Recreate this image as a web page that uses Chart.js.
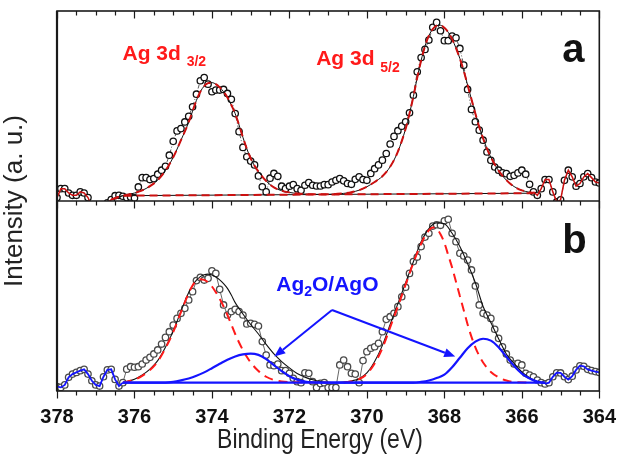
<!DOCTYPE html>
<html>
<head>
<meta charset="utf-8">
<title>Ag 3d XPS</title>
<script src="https://cdn.jsdelivr.net/npm/chart.js@4.4.1/dist/chart.umd.min.js"></script>
<style>
  html, body { margin: 0; padding: 0; background: #fff; }
  #box { position: relative; width: 622px; height: 455px; }
</style>
</head>
<body>
<div id="box"><canvas id="xps"></canvas></div>
<script>
// binding energy grid of both scans (eV)
var energy = [
  378.0, 377.9, 377.8, 377.7, 377.6, 377.5, 377.4, 377.3, 377.2, 377.1,
  377.0, 376.9, 376.8, 376.7, 376.6, 376.5, 376.4, 376.3, 376.2, 376.1,
  376.0, 375.9, 375.8, 375.7, 375.6, 375.5, 375.4, 375.3, 375.2, 375.1,
  375.0, 374.9, 374.8, 374.7, 374.6, 374.5, 374.4, 374.3, 374.2, 374.1,
  374.0, 373.9, 373.8, 373.7, 373.6, 373.5, 373.4, 373.3, 373.2, 373.1,
  373.0, 372.9, 372.8, 372.7, 372.6, 372.5, 372.4, 372.3, 372.2, 372.1,
  372.0, 371.9, 371.8, 371.7, 371.6, 371.5, 371.4, 371.3, 371.2, 371.1,
  371.0, 370.9, 370.8, 370.7, 370.6, 370.5, 370.4, 370.3, 370.2, 370.1,
  370.0, 369.9, 369.8, 369.7, 369.6, 369.5, 369.4, 369.3, 369.2, 369.1,
  369.0, 368.9, 368.8, 368.7, 368.6, 368.5, 368.4, 368.3, 368.2, 368.1,
  368.0, 367.9, 367.8, 367.7, 367.6, 367.5, 367.4, 367.3, 367.2, 367.1,
  367.0, 366.9, 366.8, 366.7, 366.6, 366.5, 366.4, 366.3, 366.2, 366.1,
  366.0, 365.9, 365.8, 365.7, 365.6, 365.5, 365.4, 365.3, 365.2, 365.1,
  365.0, 364.9, 364.8, 364.7, 364.6, 364.5, 364.4, 364.3, 364.2, 364.1,
  364.0
];

// panel a: measured intensity (a.u.)
var countsA = [
  1.8, 6.5, 6.5, 4.2, 3.0, 3.0, 4.8, 4.2, 1.8, -3.0,
  -6.0, -6.0, -4.0, -1.0, 0.7, 2.8, 3.0, 2.5, 1.8, 2.1,
  1.6, 7.4, 12.3, 12.3, 11.3, 11.8, 14.1, 16.2, 18.3, 24.1,
  31.4, 36.9, 38.1, 41.6, 44.6, 49.6, 56.2, 63.3, 65.0, 61.5,
  57.5, 58.4, 58.4, 58.7, 56.6, 53.5, 46.0, 36.5, 28.2, 23.3,
  21.0, 19.0, 13.2, 7.5, 4.8, 12.0, 14.5, 13.0, 7.8, 6.5,
  7.8, 8.6, 6.5, 5.6, 8.3, 9.7, 8.3, 7.9, 7.9, 8.6,
  8.6, 10.0, 10.9, 11.8, 10.6, 9.2, 8.8, 11.4, 12.7, 11.3,
  10.9, 14.5, 17.0, 19.0, 21.5, 25.0, 30.0, 34.0, 37.0, 39.4,
  41.7, 46.4, 55.7, 68.0, 75.5, 79.8, 84.7, 91.4, 94.0, 89.6,
  84.4, 84.4, 86.8, 85.9, 80.3, 71.5, 58.7, 48.2, 41.7, 37.3,
  32.0, 25.8, 21.4, 17.9, 16.2, 14.8, 14.4, 13.0, 13.5, 14.8,
  16.2, 14.1, 8.8, 4.8, 3.0, 6.5, 11.3, 11.3, 4.8, -0.5,
  0.6, 10.9, 16.2, 12.7, 7.8, 9.2, 12.7, 14.4, 12.3, 10.0,
  9.5
];

// panel b: measured intensity (a.u.)
var countsB = [
  2.3, 1.9, 3.2, 7.2, 8.9, 9.8, 10.7, 11.4, 8.9, 5.4,
  3.2, 2.6, 7.5, 11.1, 11.4, 6.1, 2.6, 4.4, 11.5, 12.8,
  12.5, 12.8, 14.2, 16.3, 17.7, 19.5, 21.6, 24.7, 28.2, 31.2,
  34.7, 38.2, 40.9, 43.5, 47.9, 52.3, 58.1, 59.8, 58.4, 59.3,
  63.3, 61.9, 53.5, 45.3, 40.0, 41.8, 43.0, 41.8, 40.0, 35.3,
  35.6, 35.1, 34.2, 26.0, 18.9, 13.7, 13.3, 14.2, 10.7, 10.7,
  9.3, 6.7, 4.9, 4.4, 9.6, 9.3, 4.9, 1.8, 4.0, 4.4,
  1.8, 1.9, 1.8, 13.7, 16.3, 12.8, 9.3, 8.9, 4.4, 16.0,
  20.7, 22.5, 23.3, 25.1, 31.2, 37.7, 39.1, 40.9, 44.4, 49.6,
  54.6, 61.9, 68.1, 70.5, 76.0, 81.0, 83.0, 86.8, 87.5, 87.2,
  89.6, 90.4, 83.0, 78.6, 72.5, 71.1, 68.9, 63.7, 55.3, 45.3,
  40.9, 40.0, 38.2, 32.5, 27.7, 23.3, 19.5, 16.3, 14.2, 14.6,
  13.7, 9.3, 8.4, 7.5, 5.8, 4.4, 3.7, 4.4, 7.5, 9.6,
  9.5, 7.5, 6.0, 7.8, 11.1, 13.3, 13.0, 11.4, 10.7, 10.2,
  9.8
];

// panel a fit envelope (Ag 3d3/2 + Ag 3d5/2) and background
var fitAx = [376.6, 376.4, 376.2, 376.0, 375.8, 375.6, 375.4, 375.2, 375.0, 374.8,
  374.6, 374.4, 374.3, 374.2, 374.1, 374.0, 373.9, 373.8, 373.7, 373.6,
  373.5, 373.4, 373.3, 373.2, 373.1, 373.0, 372.9, 372.8, 372.6, 372.4,
  372.2, 372.0, 371.8, 371.4, 371.0, 370.6, 370.4, 370.2, 370.0, 369.8,
  369.6, 369.4, 369.2, 369.0, 368.9, 368.8, 368.7, 368.6, 368.5, 368.4,
  368.3, 368.2, 368.1, 368.0, 367.9, 367.8, 367.7, 367.6, 367.5, 367.4,
  367.3, 367.2, 367.1, 367.0, 366.9, 366.8, 366.6, 366.4, 366.2, 366.0,
  365.8, 365.7];
var fitAy = [0.7, 2.3, 3.2, 4.2, 5.6, 7.8, 11.0, 16.0, 23.0, 32.0,
  41.5, 53.0, 57.5, 60.5, 62.0, 62.3, 61.5, 59.8, 57.5, 54.5,
  50.5, 46.0, 40.0, 33.5, 27.5, 22.5, 18.5, 15.5, 10.5, 7.2,
  5.4, 4.5, 4.0, 3.5, 3.5, 4.0, 4.6, 5.7, 7.5, 10.0,
  13.0, 18.0, 26.0, 38.0, 46.0, 55.0, 65.0, 74.0, 81.5, 87.0,
  90.5, 92.3, 92.5, 91.2, 88.8, 85.2, 80.5, 75.0, 68.5, 61.0,
  53.5, 46.0, 39.0, 33.0, 27.5, 23.0, 16.0, 11.0, 7.6, 5.6,
  4.6, 4.3];
var baseAx = [376.6, 376.3, 365.7];
var baseAy = [0.7, 2.8, 4.1];

// panel b fit envelope
var fitBx = [376.3, 376.0, 375.8, 375.6, 375.4, 375.2, 375.0, 374.8, 374.6, 374.5,
  374.4, 374.3, 374.2, 374.1, 374.0, 373.9, 373.8, 373.7, 373.6, 373.5,
  373.4, 373.3, 373.2, 373.0, 372.8, 372.6, 372.4, 372.2, 372.0, 371.8,
  371.6, 371.4, 371.2, 371.0, 370.8, 370.6, 370.4, 370.2, 370.0, 369.8,
  369.6, 369.4, 369.2, 369.0, 368.8, 368.6, 368.4, 368.2, 368.0, 367.8,
  367.6, 367.4, 367.2, 367.0, 366.8, 366.6, 366.4, 366.2, 366.0, 365.8,
  365.6, 365.4];
var fitBy = [4.4, 6.2, 8.4, 11.5, 16.0, 23.0, 31.5, 42.0, 51.8, 55.5,
  58.3, 60.2, 61.2, 61.5, 61.0, 60.0, 58.5, 56.5, 54.0, 50.5,
  46.5, 43.5, 40.5, 35.0, 30.0, 24.5, 19.5, 15.5, 12.2, 9.2,
  7.3, 5.9, 5.0, 4.6, 4.5, 4.7, 5.3, 6.5, 9.5, 15.5,
  24.0, 35.0, 46.0, 57.0, 68.0, 78.5, 85.5, 88.5, 88.0, 83.0,
  76.0, 67.0, 57.0, 44.5, 36.0, 27.5, 19.5, 14.5, 10.0, 7.0,
  5.0, 4.0];

// panel b metallic Ag components (red, dashed)
var agB1x = [376.3, 376.0, 375.8, 375.6, 375.4, 375.2, 375.0, 374.8, 374.6, 374.5,
  374.4, 374.3, 374.2, 374.1, 374.0, 373.9, 373.8, 373.7, 373.6, 373.5,
  373.4, 373.3, 373.2, 373.1, 373.0, 372.8, 372.6, 372.4, 372.2, 371.8,
  371.0];
var agB1y = [4.4, 6.0, 8.0, 11.0, 15.5, 22.5, 31.0, 41.5, 51.5, 55.5,
  58.0, 58.8, 58.5, 57.2, 55.0, 52.0, 48.5, 44.5, 40.0, 35.0,
  30.0, 25.5, 21.5, 18.0, 15.0, 10.5, 7.5, 5.8, 5.0, 4.6,
  4.4];
var agB2x = [370.6, 370.4, 370.2, 370.0, 369.8, 369.6, 369.4, 369.2, 369.0, 368.8,
  368.6, 368.5, 368.4, 368.3, 368.2, 368.1, 368.0, 367.9, 367.8, 367.7,
  367.6, 367.5, 367.4, 367.3, 367.2, 367.1, 367.0, 366.8, 366.6, 366.4,
  366.2, 365.8];
var agB2y = [4.5, 5.0, 6.2, 9.0, 14.5, 22.5, 33.5, 44.5, 56.0, 67.5,
  77.5, 81.5, 84.5, 86.0, 85.5, 82.5, 78.0, 71.5, 65.0, 57.5,
  50.0, 42.5, 35.0, 28.5, 23.0, 18.5, 15.0, 10.0, 7.2, 5.5,
  4.7, 4.4];

// panel b oxide components (blue)
var oxB1x = [376.3, 375.2, 375.0, 374.8, 374.6, 374.4, 374.2, 374.0, 373.8, 373.6,
  373.4, 373.2, 373.0, 372.8, 372.6, 372.4, 372.2, 372.0, 371.8, 371.6,
  371.4, 371.0, 365.4];
var oxB1y = [4.4, 4.4, 4.8, 5.6, 6.6, 8.0, 9.8, 12.0, 14.3, 16.5,
  18.2, 19.3, 19.7, 19.0, 16.8, 13.6, 10.5, 7.8, 6.0, 5.0,
  4.6, 4.4, 4.4];
var oxB2x = [376.3, 368.8, 368.6, 368.4, 368.2, 368.0, 367.8, 367.6, 367.4, 367.2,
  367.0, 366.8, 366.6, 366.4, 366.2, 366.0, 365.8, 365.6, 365.4];
var oxB2y = [4.4, 4.4, 4.8, 5.5, 6.8, 8.6, 12.5, 17.5, 22.5, 26.0,
  27.5, 26.5, 23.0, 18.0, 13.2, 9.2, 6.6, 5.0, 4.2];

var xTicks = [378, 376, 374, 372, 370, 368, 366, 364];

var FONT = '"Liberation Sans", Arial, Helvetica, sans-serif';
Chart.defaults.font.family = FONT;

function pairUp(xs, ys) {
  return xs.map(function (x, i) { return { x: x, y: ys[i] }; });
}
function within(points, lo, hi) {
  return points.filter(function (p) { return p.x >= lo && p.x <= hi; });
}
function curve(points, axis, color, width, dash) {
  return {
    data: points, yAxisID: axis, borderColor: color, borderWidth: width,
    borderDash: dash || [], pointRadius: 0, fill: false,
    cubicInterpolationMode: 'monotone'
  };
}
function straight(points, axis, color, width, dash) {
  var ds = curve(points, axis, color, width, dash);
  ds.cubicInterpolationMode = 'default';
  ds.tension = 0;
  return ds;
}

var ptsA = pairUp(energy, countsA);
var ptsB = pairUp(energy, countsB);

var RED_A = '#cc1010', RED_B = '#ff1a1a', BLUE = '#1414ff';

// text runs for the drawn notes
function drawRuns(ctx, x, y, runs, color) {
  ctx.fillStyle = color;
  ctx.textAlign = 'left';
  ctx.textBaseline = 'alphabetic';
  runs.forEach(function (r) {
    ctx.font = 'bold ' + r.size + 'px ' + FONT;
    ctx.fillText(r.text, x, y + (r.dy || 0));
    x += ctx.measureText(r.text).width;
  });
}

function arrowHead(ctx, x0, y0, x1, y1, len, half) {
  var a = Math.atan2(y1 - y0, x1 - x0);
  var bx = x1 - len * Math.cos(a), by = y1 - len * Math.sin(a);
  ctx.beginPath();
  ctx.moveTo(x1, y1);
  ctx.lineTo(bx + half * Math.sin(a), by - half * Math.cos(a));
  ctx.lineTo(bx - half * Math.sin(a), by + half * Math.cos(a));
  ctx.closePath();
  ctx.fill();
  return [bx, by];
}

// frame, inner ticks, axis titles and the labels of both panels
var framePlugin = {
  id: 'frame',
  afterDraw: function (chart, args, opts) {
    var ctx = chart.ctx, x = chart.scales.x;
    var ya = chart.scales.yA, yb = chart.scales.yB;
    var upper = ya.top <= yb.top ? ya : yb, lower = upper === ya ? yb : ya;
    var L = x.left, R = x.right, T = upper.top, M = upper.bottom, B = lower.bottom;

    ctx.save();
    ctx.strokeStyle = '#1a1a1a';
    ctx.lineWidth = 1.6;
    ctx.strokeRect(L, T, R - L, B - T);
    ctx.beginPath();
    ctx.moveTo(L, M); ctx.lineTo(R, M);
    ctx.stroke();
    ctx.lineWidth = 2.2;
    ctx.beginPath();
    ctx.moveTo(L, T); ctx.lineTo(L, B);
    ctx.stroke();

    // major ticks every 2 eV, minor every 0.5 eV, all pointing down
    ctx.lineWidth = 1.2;
    ctx.beginPath();
    for (var i = 0; i < xTicks.length; i++) {
      var steps = i < xTicks.length - 1 ? 4 : 1;
      for (var k = 0; k < steps; k++) {
        var v = i < xTicks.length - 1 ? xTicks[i] + (xTicks[i + 1] - xTicks[i]) * k / 4 : xTicks[i];
        var px = Math.round(x.getPixelForValue(v)) + 0.5;
        var len = k === 0 ? 7.5 : 4.5;
        [T, M, B].forEach(function (yy) {
          ctx.moveTo(px, yy); ctx.lineTo(px, yy + len);
        });
      }
    }
    ctx.stroke();

    // axis titles
    ctx.fillStyle = '#222';
    ctx.textAlign = 'center';
    ctx.textBaseline = 'alphabetic';
    ctx.save();
    ctx.translate(opts.xTitleX, opts.xTitleY);
    ctx.scale(1, 1.18);
    ctx.font = '23px ' + FONT;
    ctx.fillText('Binding Energy (eV)', 0, 0);
    ctx.restore();
    ctx.translate(opts.yTitleX, (T + B) / 2);
    ctx.rotate(-Math.PI / 2);
    ctx.textBaseline = 'middle';
    ctx.font = '26px ' + FONT;
    ctx.fillText('Intensity (a. u.)', 0, 0);
    ctx.restore();

    ctx.save();
    opts.notes.forEach(function (n) {
      var sc = chart.scales[n.axis];
      drawRuns(ctx, x.getPixelForValue(n.x), sc.getPixelForValue(n.y), n.runs, n.color);
    });

    // arrows from the oxide label to both oxide peaks
    var ar = opts.arrows, sc = chart.scales[ar.axis];
    var ax = x.getPixelForValue(ar.from[0]), ay = sc.getPixelForValue(ar.from[1]);
    ctx.strokeStyle = ar.color;
    ctx.fillStyle = ar.color;
    ctx.lineWidth = 2;
    ar.to.forEach(function (t) {
      var tx = x.getPixelForValue(t[0]), ty = sc.getPixelForValue(t[1]);
      var base = arrowHead(ctx, ax, ay, tx, ty, 11, 4.5);
      ctx.beginPath();
      ctx.moveTo(ax, ay);
      ctx.lineTo(base[0], base[1]);
      ctx.stroke();
    });
    ctx.restore();
  }
};

// first dataset is drawn on top; measured points sit underneath the fits
new Chart(document.getElementById('xps'), {
  type: 'line',
  data: {
    datasets: [
      straight(within(ptsB, 376.3, 378), 'yB', BLUE, 1.8),
      straight(within(ptsB, 364, 365.4), 'yB', BLUE, 1.8),
      curve(pairUp(oxB1x, oxB1y), 'yB', BLUE, 2.2),
      curve(pairUp(oxB2x, oxB2y), 'yB', BLUE, 2.2),
      curve(pairUp(agB1x, agB1y), 'yB', RED_B, 2, [9, 6]),
      curve(pairUp(agB2x, agB2y), 'yB', RED_B, 2, [9, 6]),
      curve(pairUp(fitBx, fitBy), 'yB', '#111', 1.1),
      straight(within(ptsA, 376.6, 378), 'yA', RED_A, 1.5),
      straight(within(ptsA, 364, 365.7), 'yA', RED_A, 1.5),
      curve(pairUp(fitAx, fitAy), 'yA', RED_A, 2, [8, 5]),
      straight(pairUp(baseAx, baseAy), 'yA', RED_A, 2, [8, 5]),
      curve(pairUp(fitAx, fitAy), 'yA', '#111', 1),
      straight(pairUp(baseAx, baseAy), 'yA', '#111', 1),
      {
        data: ptsA, yAxisID: 'yA', borderColor: '#333', borderWidth: 0.8,
        borderDash: [4, 2, 1, 2], pointRadius: 3.2, pointBorderWidth: 1.3,
        pointBorderColor: '#111', pointBackgroundColor: '#fff', tension: 0
      },
      {
        data: ptsB, yAxisID: 'yB', borderColor: '#666', borderWidth: 1,
        pointRadius: 3.2, pointBorderWidth: 1.3,
        pointBorderColor: '#4a4a4a', pointBackgroundColor: '#fff', tension: 0
      }
    ]
  },
  options: {
    responsive: true,
    maintainAspectRatio: false,
    animation: false,
    events: [],
    layout: { padding: { left: 57, right: 19, top: 11, bottom: 0 } },
    scales: {
      x: {
        type: 'linear', min: 364, max: 378, reverse: true, position: 'bottom',
        afterBuildTicks: function (scale) {
          scale.ticks = xTicks.map(function (v) { return { value: v }; });
        },
        afterFit: function (scale) { scale.height = 64; },
        ticks: { font: { size: 20, weight: 'bold' }, color: '#111', padding: 6, maxRotation: 0, autoSkip: false },
        grid: { drawOnChartArea: false, drawTicks: true, tickLength: 8, tickColor: 'rgba(0,0,0,0)' },
        border: { display: false }
      },
      yA: {
        type: 'linear', min: 0, max: 100, position: 'left', stack: 'panels', stackWeight: 1, weight: 2,
        ticks: { display: false }, grid: { display: false, drawTicks: false }, border: { display: false }
      },
      yB: {
        type: 'linear', min: 0, max: 100, position: 'left', stack: 'panels', stackWeight: 1, weight: 1,
        ticks: { display: false }, grid: { display: false, drawTicks: false }, border: { display: false }
      }
    },
    plugins: {
      legend: { display: false },
      tooltip: { enabled: false },
      frame: {
        xTitleX: 320, xTitleY: 448, yTitleX: 15,
        notes: [
          { axis: 'yA', x: 376.31, y: 74.2, color: RED_B, runs: [{ text: 'Ag 3d ', size: 21 }, { text: '3/2', size: 14, dy: 6 }] },
          { axis: 'yA', x: 371.31, y: 71.5, color: RED_B, runs: [{ text: 'Ag 3d ', size: 21 }, { text: '5/2', size: 14, dy: 7 }] },
          { axis: 'yA', x: 364.96, y: 73.2, color: '#111', runs: [{ text: 'a', size: 40 }] },
          { axis: 'yB', x: 364.96, y: 72.6, color: '#111', runs: [{ text: 'b', size: 40 }] },
          { axis: 'yB', x: 372.34, y: 52.8, color: BLUE, runs: [{ text: 'Ag', size: 21 }, { text: '2', size: 14, dy: 5 }, { text: 'O/AgO', size: 21 }] }
        ],
        arrows: { axis: 'yB', color: BLUE, from: [370.9, 42.6], to: [[372.39, 18.1], [367.72, 18.1]] }
      }
    }
  },
  plugins: [framePlugin]
});
</script>
</body>
</html>
